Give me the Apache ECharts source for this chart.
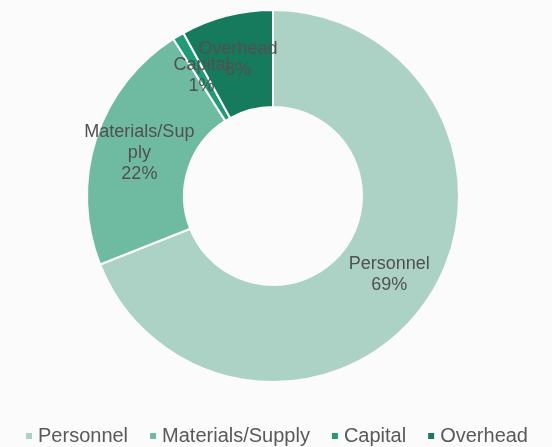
<!DOCTYPE html>
<html>
<head>
<meta charset="utf-8">
<script src="https://cdn.jsdelivr.net/npm/echarts@6/dist/echarts.min.js"></script>
<style>
  html, body { margin: 0; padding: 0; background: #fbfbfb; }
  #chart { width: 552px; height: 447px; }
</style>
</head>
<body>
<div id="chart"></div>
<script>
var categories = ['Personnel', 'Materials/Supply', 'Capital', 'Overhead'];
var shares = [69, 22, 1, 8];
var colors = ['#abd2c4', '#6fbba2', '#1f9b78', '#167b5c'];

var data = categories.map(function (name, i) {
    var item = { name: name, value: shares[i], itemStyle: { color: colors[i] } };
    if (name === 'Materials/Supply') {
        item.label = { width: 114, overflow: 'breakAll' };
    }
    return item;
});

echarts.init(document.getElementById('chart')).setOption({
    backgroundColor: '#fbfbfb',
    legend: {
        bottom: -4,
        left: 'center',
        itemWidth: 8,
        itemHeight: 8,
        itemGap: 20,
        icon: 'rect',
        textStyle: {
            color: '#595959',
            fontSize: 20,
            fontFamily: 'Liberation Sans'
        },
        data: categories
    },
    series: [
        {
            type: 'pie',
            center: [273, 196],
            radius: [89, 186],
            startAngle: 90,
            clockwise: true,
            avoidLabelOverlap: false,
            itemStyle: {
                borderColor: '#fbfbfb',
                borderWidth: 2
            },
            label: {
                position: 'inside',
                formatter: '{b}\n{c}%',
                color: '#505050',
                fontSize: 18,
                lineHeight: 21,
                fontFamily: 'Liberation Sans'
            },
            labelLayout: { hideOverlap: false },
            labelLine: { show: false },
            emphasis: { disabled: true },
            data: data
        }
    ]
});
</script>
</body>
</html>
